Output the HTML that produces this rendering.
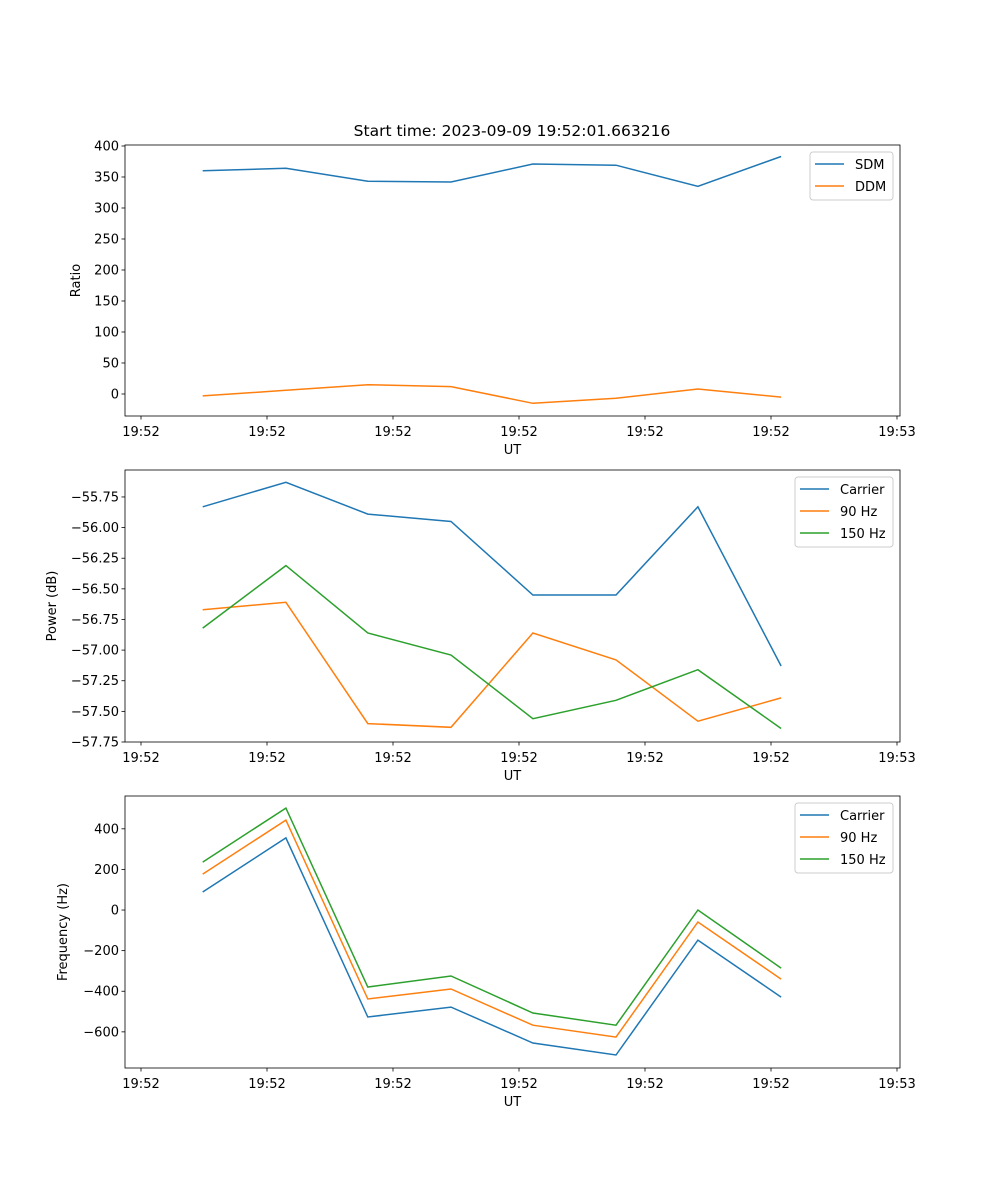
<!DOCTYPE html>
<html><head><meta charset="utf-8"><style>
body{margin:0;background:#fff}
svg{display:block;font-family:"DejaVu Sans","Liberation Sans",sans-serif}
</style></head><body>
<svg id="fig" width="1000" height="1200" xmlns="http://www.w3.org/2000/svg"></svg>
<script>
const xTimes=[0.49,1.15,1.80,2.46,3.11,3.77,4.42,5.08];
const xTickVals=[0,1,2,3,4,5,6];
const xTickLabels=["19:52","19:52","19:52","19:52","19:52","19:52","19:53"];
const sdm=[360,364,343,342,371,369,335,383];
const ddm=[-3,6,15,12,-15,-7,8,-5];
const powCarrier=[-55.83,-55.63,-55.89,-55.95,-56.55,-56.55,-55.83,-57.13];
const pow90=[-56.67,-56.61,-57.60,-57.63,-56.86,-57.08,-57.58,-57.39];
const pow150=[-56.82,-56.31,-56.86,-57.04,-57.56,-57.41,-57.16,-57.64];
const freqCarrier=[89,355,-527,-478,-655,-714,-148,-429];
const freq90=[177,443,-438,-389,-567,-626,-59,-340];
const freq150=[236,502,-379,-325,-507,-567,0,-286];
const ticks1=[0,50,100,150,200,250,300,350,400];
const ticks2=[-57.75,-57.5,-57.25,-57.0,-56.75,-56.5,-56.25,-56.0,-55.75];
const ticks2Labels=["−57.75","−57.50","−57.25","−57.00","−56.75","−56.50","−56.25","−56.00","−55.75"];
const ticks3=[-600,-400,-200,0,200,400];
const ticks3Labels=["−600","−400","−200","0","200","400"];

const NS="http://www.w3.org/2000/svg";
const svg=document.getElementById('fig');
function mk(tag,attrs,parent,text){const e=document.createElementNS(NS,tag);for(const k in attrs)e.setAttribute(k,attrs[k]);if(text!==undefined)e.textContent=text;(parent||svg).appendChild(e);return e;}
const L=125,R=900;
const xScale=t=>141+t*126;
const C=["#1f77b4","#ff7f0e","#2ca02c"];

function panel(name,top,bottom,dmin,dmax,yt,ytl,ylabel,series,names,legend){
  const g=mk('g',{},svg);
  
  
  const ys=v=>bottom-(v-dmin)/(dmax-dmin)*(bottom-top);
  series.forEach((s,i)=>{
    const p=mk('polyline',{points:s.map((v,j)=>xScale(xTimes[j]).toFixed(1)+','+ys(v).toFixed(1)).join(' '),fill:'none',stroke:C[i],'stroke-width':1.5},g);
    
    
  });
  const fr=mk('rect',{x:L,y:top,width:R-L,height:bottom-top,fill:'none',stroke:'#000','stroke-width':0.8},g);
  
  
  xTickVals.forEach((t,i)=>{
    const x=xScale(t);
    mk('line',{x1:x,x2:x,y1:bottom,y2:bottom+3.5,stroke:'#000','stroke-width':0.8},g);
    const tx=mk('text',{x:x,y:bottom+20,'font-size':13,'text-anchor':'middle'},g,xTickLabels[i]);
    
    
  });
  yt.forEach((v,i)=>{
    const y=ys(v);
    mk('line',{x1:L-3.5,x2:L,y1:y,y2:y,stroke:'#000','stroke-width':0.8},g);
    const tx=mk('text',{x:L-6,y:y+4.5,'font-size':13,'text-anchor':'end'},g,ytl[i]);
    
    
  });
  const xl=mk('text',{x:(L+R)/2,y:bottom+38,'font-size':13,'text-anchor':'middle'},g,'UT');
  
  
  const yx=legend.ylx, yy=(top+bottom)/2;
  const yl=mk('text',{x:yx,y:yy,'font-size':13,'text-anchor':'middle',transform:'rotate(-90 '+yx+' '+yy+')'},g,ylabel);
  
  
  const lg=mk('g',{},g);
  
  
  mk('rect',{x:legend.x,y:top+7,width:legend.w,height:names.length*22+4,rx:3,fill:'#fff','fill-opacity':0.8,stroke:'#ccc'},lg);
  names.forEach((n,i)=>{
    const y=top+19+i*22;
    mk('line',{x1:legend.x+5,x2:legend.x+34,y1:y,y2:y,stroke:C[i],'stroke-width':1.5},lg);
    const t=mk('text',{x:legend.x+45,y:y+5,'font-size':13},lg,n);
    
    
  });
}
const title=mk('text',{x:512,y:136,'font-size':15.5,'text-anchor':'middle'},svg,'Start time: 2023-09-09 19:52:01.663216');


panel('ratio',145,416,-35.5,401.6,ticks1,ticks1.map(String),'Ratio',[sdm,ddm],['SDM','DDM'],{x:810,w:83,ylx:80});
panel('power',470,742,-57.75,-55.53,ticks2,ticks2Labels,'Power (dB)',[powCarrier,pow90,pow150],['Carrier','90 Hz','150 Hz'],{x:795,w:98,ylx:56});
panel('frequency',796,1068,-778,561.6,ticks3,ticks3Labels,'Frequency (Hz)',[freqCarrier,freq90,freq150],['Carrier','90 Hz','150 Hz'],{x:795,w:98,ylx:67});
</script>
</body></html>
